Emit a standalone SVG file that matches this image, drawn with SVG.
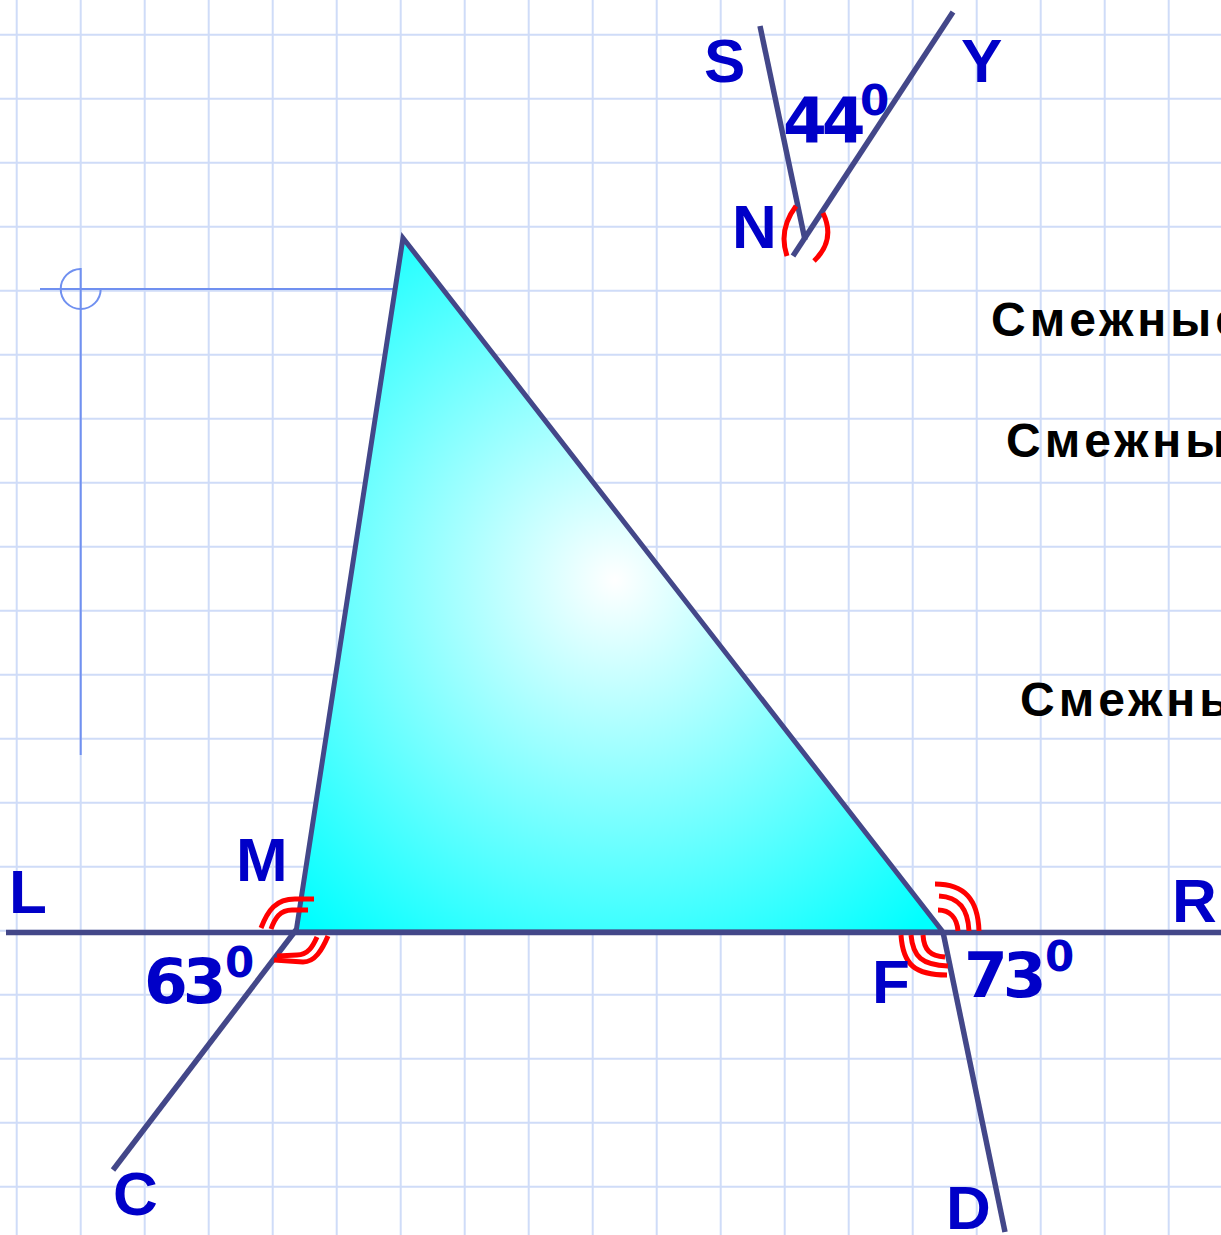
<svg xmlns="http://www.w3.org/2000/svg" width="1221" height="1235" viewBox="0 0 1221 1235">
<defs>
<radialGradient id="fillg" gradientUnits="userSpaceOnUse" cx="615" cy="580" r="460">
<stop offset="0" stop-color="#ffffff"/>
<stop offset="1" stop-color="#00ffff"/>
</radialGradient>
</defs>
<style>
.grid{stroke:#cfdcf8;stroke-width:2;fill:none}
.guide{stroke:#7090f0;stroke-width:2;fill:none}
.ln{stroke:#434789;stroke-width:5.5;fill:none;stroke-linecap:butt}
.arc{stroke:#ff0000;stroke-width:5;fill:none}
.lbl{font-family:"Liberation Sans",Arial,sans-serif;font-weight:bold;font-size:62px;fill:#0000c8}
.num{font-family:"DejaVu Sans",Verdana,sans-serif;font-weight:bold;font-size:63px;fill:#0000c8;letter-spacing:-5px}
.sup{font-family:"DejaVu Sans",Verdana,sans-serif;font-weight:bold;font-size:42px;fill:#0000c8}
.txt{font-family:"Liberation Sans",Arial,sans-serif;font-weight:bold;font-size:48px;fill:#000000;letter-spacing:4px}
</style>
<rect width="1221" height="1235" fill="#ffffff"/>
<g id="grid">
<path class="grid" d="M16.7 0V1235M80.7 0V1235M144.7 0V1235M208.7 0V1235M272.7 0V1235M336.7 0V1235M400.7 0V1235M464.7 0V1235M528.7 0V1235M592.7 0V1235M656.7 0V1235M720.7 0V1235M784.7 0V1235M848.7 0V1235M912.7 0V1235M976.7 0V1235M1040.7 0V1235M1104.7 0V1235M1168.7 0V1235"/>
<path class="grid" d="M0 34.7H1221M0 98.7H1221M0 162.7H1221M0 226.7H1221M0 290.7H1221M0 354.7H1221M0 418.7H1221M0 482.7H1221M0 546.7H1221M0 610.7H1221M0 674.7H1221M0 738.7H1221M0 802.7H1221M0 866.7H1221M0 930.7H1221M0 994.7H1221M0 1058.7H1221M0 1122.7H1221M0 1186.7H1221"/>
</g>
<g id="guide">
<path class="guide" d="M40 289H395M80.7 268V755"/>
<path class="guide" d="M80.7 269A20 20 0 1 0 100.7 289"/>
</g>
<g id="triangle">
<polygon points="403,238 296,932 943,932" fill="url(#fillg)" stroke="#434789" stroke-width="5" stroke-linejoin="miter"/>
</g>
<g id="connectors">
<line class="ln" x1="6" y1="932.5" x2="1221" y2="932.5"/>
<line class="ln" x1="296" y1="930" x2="113" y2="1170"/>
<line class="ln" x1="943" y1="932" x2="1005" y2="1232"/>
<line class="ln" x1="760" y1="26" x2="805" y2="240"/>
<line class="ln" x1="953" y1="12" x2="793" y2="256"/>
</g>
<g id="arcs">
<path class="arc" d="M796 206Q778 230 787 256"/>
<path class="arc" d="M823 213Q836 240 814 261"/>
<path class="arc" d="M261 928C268 910 276 899 295 899L314 899"/>
<path class="arc" d="M271 929C275 918 280 910 292 910L308 910"/>
<path class="arc" d="M277 956L297 955C308 955 313 946 317 937"/>
<path class="arc" d="M274 960L303 962C315 962 322 950 328 936"/>
<path class="arc" d="M935 884C965 884 978 900 979 931"/>
<path class="arc" d="M939 896C960 897 968 910 969 931"/>
<path class="arc" d="M938 910C950 910 957 918 958 931"/>
<path class="arc" d="M901 935C903 965 915 975 947 975"/>
<path class="arc" d="M911 935C913 957 922 965 948 966"/>
<path class="arc" d="M923 935C924 950 930 956 945 957"/>
</g>
<g id="labels">
<text class="lbl" x="9" y="913">L</text>
<text class="lbl" x="236" y="881">M</text>
<text class="lbl" x="1172" y="922">R</text>
<text class="lbl" x="872" y="1003">F</text>
<text class="lbl" x="113" y="1215">C</text>
<text class="lbl" x="946" y="1229">D</text>
<text class="lbl" x="704" y="82">S</text>
<text class="lbl" x="961" y="82">Y</text>
<text class="lbl" x="732" y="248">N</text>
<text class="num" x="144" y="1003">63</text>
<text class="sup" x="225" y="977">0</text>
<text class="num" x="964" y="997">73</text>
<text class="sup" x="1045" y="971">0</text>
<text class="num" x="783" y="142">44</text>
<text class="sup" x="860" y="115">0</text>
</g>
<g id="texts">
<text class="txt" x="991" y="336">Смежные</text>
<text class="txt" x="1006" y="457">Смежные</text>
<text class="txt" x="1020" y="716">Смежные</text>
</g>
</svg>
